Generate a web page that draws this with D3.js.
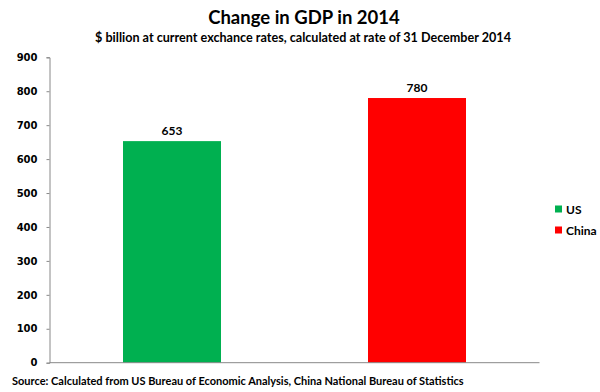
<!DOCTYPE html>
<html><head><meta charset="utf-8">
<script src="https://cdn.jsdelivr.net/npm/d3@7"></script>
<style>body{margin:0;background:#fff}svg{display:block}text{font-family:Lato,"Open Sans",sans-serif;font-weight:bold;fill:#000}</style>
</head><body>
<svg id="c" width="600" height="392"></svg>
<script>
const categories = ["US", "China"];
const values = [653, 780];
const colors = ["#00b050", "#ff0000"];
const yTicks = [0, 100, 200, 300, 400, 500, 600, 700, 800, 900];
const title = "Change in GDP in 2014";
const subtitle = "$ billion at current exchance rates, calculated at rate of 31 December 2014";
const source = "Source: Calculated from US Bureau of Economic Analysis, China National Bureau of Statistics";

const svg = d3.select("#c");
const x = d3.scaleBand().domain(categories).range([49.5, 539.5]).paddingInner(0.6).paddingOuter(0.3);
const y = d3.scaleLinear().domain([0, 900]).range([362.7, 57.3]);

svg.append("text").attr("x", 304).attr("y", 24).attr("text-anchor", "middle").style("font-size", "18.5px").text(title);
svg.append("text").attr("x", 303).attr("y", 42).attr("text-anchor", "middle").style("font-size", "12.6px").text(subtitle);

const ya = svg.append("g").attr("transform", "translate(49.5,0)")
  .call(d3.axisLeft(y).tickValues(yTicks).tickSize(3).tickPadding(9));
ya.select(".domain").attr("stroke", "#888");
ya.selectAll(".tick line").attr("stroke", "#888");
ya.selectAll(".tick text").style("font-size", "10px").style("font-family", "'DejaVu Sans'").style("font-weight", "bold").attr("fill", "#000");

svg.selectAll("rect.bar").data(categories).enter().append("rect").attr("class", "bar")
  .attr("x", d => x(d)).attr("width", x.bandwidth())
  .attr("y", (d, i) => y(values[i])).attr("height", (d, i) => y(0) - y(values[i]))
  .attr("fill", (d, i) => colors[i]);

svg.append("line").attr("x1", 49.5).attr("x2", 539.5).attr("y1", y(0)).attr("y2", y(0)).attr("stroke", "#888");

svg.selectAll("text.val").data(categories).enter().append("text").attr("class", "val")
  .attr("x", d => x(d) + x.bandwidth() / 2).attr("y", (d, i) => y(values[i]) - 6)
  .attr("text-anchor", "middle").style("font-size", "12px").text((d, i) => values[i]);

const lg = svg.append("g");
categories.forEach((c, i) => {
  const ly = 209 + i * 21;
  lg.append("rect").attr("x", 555).attr("y", ly - 3.5).attr("width", 7).attr("height", 7).attr("fill", colors[i]);
  lg.append("text").attr("x", 566).attr("y", ly + 4.5).style("font-size", "12px").text(c);
});

svg.append("text").attr("x", 12).attr("y", 385).style("font-size", "11px").text(source);
</script>
</body></html>
